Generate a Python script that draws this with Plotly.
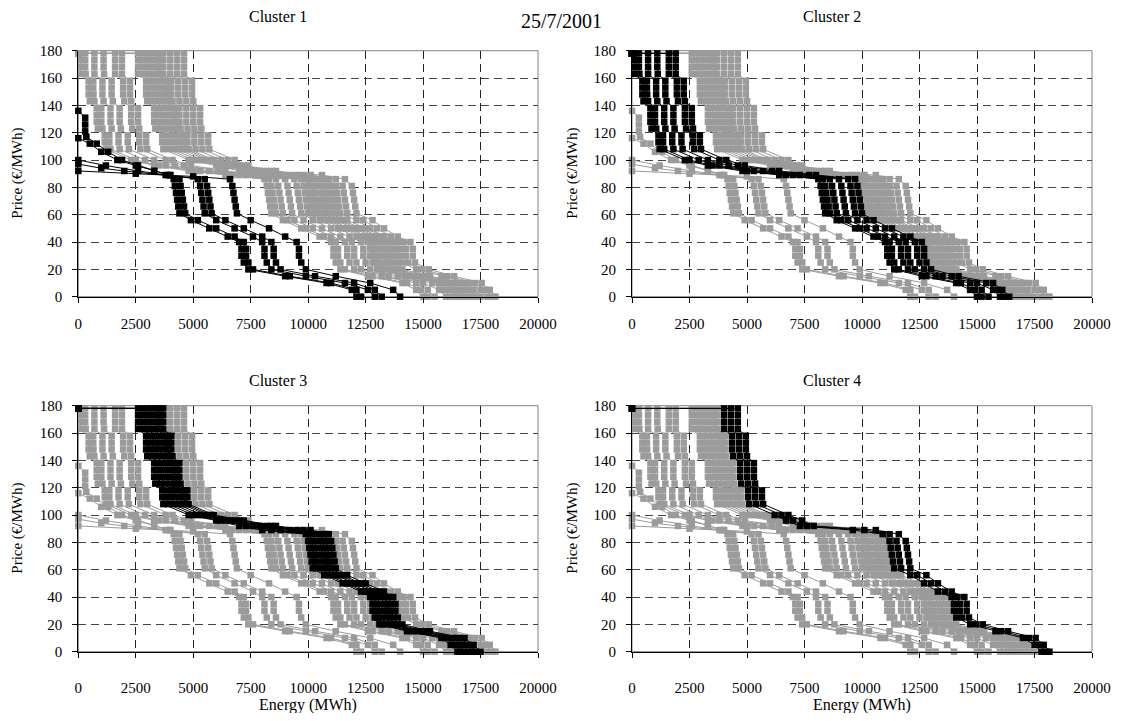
import plotly.graph_objects as go

# ---------------- data ----------------
# common price levels (EUR/MWh) for the curves of clusters 2-4; the first entry is the starting point at 0 MWh
PRICE_GRID = [178, 178, 173, 168, 163, 158, 153, 148, 143, 138, 133, 128, 123, 118, 113, 108, 100, 96, 92, 89,
              86, 81, 76, 71, 66, 61, 56, 50, 44, 40, 35, 30, 25, 20, 15, 10, 5, 0]

# cluster 1 curves (they start on the price axis)
A1_P = [136, 131, 126, 121, 117, 112, 106, 100, 96, 92, 89, 86, 81, 76, 71, 66, 61, 56, 50, 44, 40, 35, 30, 25,
        20, 15, 10, 5, 0]
A1_E = [0, 300, 300, 300, 350, 800, 1300, 1900, 2600, 3300, 3900, 4150, 4200, 4250, 4300, 4350, 4400, 4900, 5700,
        6500, 7000, 7100, 7100, 7200, 7400, 9000, 10800, 11900, 12100]
A2_P = [116, 112, 106, 100, 96, 92, 89, 86, 81, 76, 71, 66, 61, 56, 50, 44, 40, 35, 30, 25, 20, 15, 10, 5, 0]
A2_E = [0, 500, 1000, 1700, 2500, 3300, 4000, 4400, 4450, 4500, 4550, 4600, 4650, 5200, 6000, 6800, 7200, 7300,
        7300, 7400, 7600, 9200, 11000, 12100, 12300]
A3_P = [100, 96, 92, 89, 86, 81, 76, 71, 66, 61, 56, 50, 44, 40, 35, 30, 25, 20, 15, 10, 5, 0]
A3_E = [0, 1200, 2600, 4000, 5200, 5300, 5350, 5400, 5450, 5500, 6000, 6800, 7600, 8000, 8100, 8100, 8200, 8400,
        9900, 11600, 12600, 12900]
A4_P = [97, 94, 92, 89, 86, 81, 76, 71, 66, 61, 56, 50, 44, 40, 35, 30, 25, 20, 15, 10, 5, 0]
A4_E = [0, 1000, 2000, 3800, 5500, 5600, 5650, 5700, 5750, 5800, 6400, 7200, 8000, 8400, 8500, 8500, 8600, 8800,
        10300, 12000, 12900, 13200]
A5_P = [92, 90, 88, 86, 81, 76, 71, 66, 61, 56, 50, 44, 40, 35, 30, 25, 20, 15, 10, 5, 0]
A5_E = [0, 2500, 5000, 6600, 6700, 6750, 6800, 6850, 6900, 7500, 8300, 9000, 9500, 9600, 9600, 9700, 9900, 11200,
        12700, 13700, 14000]

# cluster 2 curves (energies in MWh at PRICE_GRID)
B1_E = [0, 100, 100, 100, 100, 450, 450, 450, 500, 800, 800, 800, 850, 1150, 1150, 1200, 2300, 3300, 4800, 6400,
        8100, 8200, 8250, 8300, 8350, 8400, 8900, 9700, 10500, 11000, 11100, 11100, 11200, 11400, 12600, 14100,
        14700, 15000]
B2_E = [0, 300, 300, 300, 320, 650, 650, 660, 700, 1000, 1000, 1000, 1050, 1350, 1350, 1400, 2500, 3500, 5000,
        6700, 8300, 8400, 8450, 8500, 8550, 8600, 9100, 9900, 10700, 11200, 11300, 11300, 11400, 11600, 12800,
        14300, 14900, 15200]
B3_E = [0, 700, 700, 700, 700, 1050, 1050, 1050, 1100, 1400, 1400, 1400, 1450, 1750, 1750, 1800, 2900, 3800, 5300,
        7000, 8600, 8700, 8750, 8800, 8850, 8900, 9400, 10200, 11000, 11600, 11700, 11700, 11800, 12000, 13200,
        14700, 15200, 15500]
B4_E = [0, 1100, 1100, 1100, 1120, 1450, 1450, 1450, 1500, 1800, 1800, 1800, 1850, 2150, 2150, 2200, 3300, 4200,
        5700, 7300, 9000, 9100, 9150, 9200, 9250, 9300, 9800, 10600, 11400, 11900, 12000, 12000, 12100, 12300,
        13500, 15000, 15700, 16000]
B5_E = [0, 1600, 1600, 1600, 1600, 1950, 1950, 1950, 2000, 2300, 2300, 2300, 2350, 2650, 2650, 2700, 3800, 4600,
        6100, 7700, 9400, 9500, 9550, 9600, 9650, 9700, 10200, 11000, 11800, 12300, 12400, 12400, 12500, 12700,
        13900, 15400, 15900, 16200]
B6_E = [0, 1900, 1900, 1900, 1900, 2250, 2250, 2250, 2300, 2600, 2600, 2600, 2650, 2950, 2950, 3000, 4100, 4900,
        6400, 8000, 9700, 9800, 9850, 9900, 9950, 10000, 10500, 11300, 12100, 12600, 12700, 12700, 12800, 13000,
        14200, 15700, 16100, 16400]

# cluster 3 curves
C1_E = [0, 2600, 2600, 2600, 2600, 2950, 2950, 2950, 3000, 3300, 3300, 3300, 3350, 3650, 3650, 3700, 4800, 6000,
        7000, 8000, 9900, 10000, 10050, 10100, 10150, 10200, 10700, 11500, 12300, 12700, 12800, 12800, 12900,
        13100, 14300, 15800, 16200, 16500]
C2_E = [0, 2800, 2800, 2800, 2800, 3150, 3150, 3150, 3200, 3500, 3500, 3500, 3550, 3850, 3850, 3900, 5000, 6200,
        7300, 8400, 10050, 10150, 10200, 10250, 10300, 10350, 10850, 11650, 12450, 12850, 12950, 12950, 13050,
        13250, 14450, 15950, 16350, 16650]
C3_E = [0, 3000, 3000, 3000, 3000, 3350, 3350, 3350, 3400, 3700, 3700, 3700, 3750, 4050, 4050, 4100, 5200, 6400,
        7600, 8800, 10200, 10300, 10350, 10400, 10450, 10500, 11000, 11800, 12600, 13000, 13100, 13100, 13200,
        13400, 14600, 16100, 16500, 16800]
C4_E = [0, 3200, 3200, 3200, 3200, 3550, 3550, 3550, 3600, 3900, 3900, 3900, 3950, 4250, 4250, 4300, 5400, 6600,
        7900, 9200, 10400, 10500, 10550, 10600, 10650, 10700, 11200, 12000, 12800, 13200, 13300, 13300, 13400,
        13600, 14800, 16300, 16700, 17000]
C5_E = [0, 3400, 3400, 3400, 3400, 3750, 3750, 3750, 3800, 4100, 4100, 4100, 4150, 4450, 4450, 4500, 5600, 6800,
        8200, 9500, 10550, 10650, 10700, 10750, 10800, 10850, 11350, 12150, 12950, 13350, 13450, 13450, 13550,
        13750, 14950, 16450, 16850, 17150]
C6_E = [0, 3550, 3550, 3550, 3550, 3900, 3900, 3900, 3950, 4250, 4250, 4250, 4300, 4600, 4600, 4650, 5750, 7000,
        8400, 9800, 10700, 10800, 10850, 10900, 10950, 11000, 11500, 12300, 13100, 13500, 13600, 13600, 13700,
        13900, 15100, 16600, 17000, 17300]
C7_E = [0, 3700, 3700, 3700, 3700, 4050, 4050, 4050, 4100, 4400, 4400, 4400, 4450, 4750, 4750, 4800, 5900, 7200,
        8600, 10100, 10900, 11000, 11050, 11100, 11150, 11200, 11700, 12500, 13300, 13700, 13800, 13800, 13900,
        14100, 15300, 16800, 17200, 17500]

# cluster 4 curves
D1_E = [0, 4000, 4000, 4000, 4000, 4350, 4350, 4350, 4400, 4700, 4700, 4700, 4750, 5050, 5050, 5100, 6200, 6700,
        7300, 9600, 10900, 11200, 11250, 11300, 11350, 11400, 12100, 12700, 13300, 13900, 14000, 14000, 14100,
        14700, 15800, 17000, 17500, 17800]
D2_E = [0, 4300, 4300, 4300, 4300, 4650, 4650, 4650, 4700, 5000, 5000, 5000, 5050, 5350, 5350, 5400, 6500, 7000,
        7600, 10100, 11200, 11500, 11550, 11600, 11650, 11700, 12400, 13000, 13600, 14150, 14250, 14250, 14350,
        14950, 16050, 17250, 17700, 18000]
D3_E = [0, 4600, 4600, 4600, 4600, 4950, 4950, 4950, 5000, 5300, 5300, 5300, 5350, 5650, 5650, 5700, 6800, 7400,
        7900, 10600, 11600, 11900, 11950, 12000, 12050, 12100, 12800, 13300, 13900, 14450, 14550, 14550, 14650,
        15250, 16350, 17550, 17900, 18150]

CLUSTER_CURVES = {
    1: [(A1_E, A1_P), (A2_E, A2_P), (A3_E, A3_P), (A4_E, A4_P), (A5_E, A5_P)],
    2: [(B1_E, PRICE_GRID), (B2_E, PRICE_GRID), (B3_E, PRICE_GRID), (B4_E, PRICE_GRID), (B5_E, PRICE_GRID),
        (B6_E, PRICE_GRID)],
    3: [(C1_E, PRICE_GRID), (C2_E, PRICE_GRID), (C3_E, PRICE_GRID), (C4_E, PRICE_GRID), (C5_E, PRICE_GRID),
        (C6_E, PRICE_GRID), (C7_E, PRICE_GRID)],
    4: [(D1_E, PRICE_GRID), (D2_E, PRICE_GRID), (D3_E, PRICE_GRID)],
}

X_TICKS = [0, 2500, 5000, 7500, 10000, 12500, 15000, 17500, 20000]
Y_TICKS = [0, 20, 40, 60, 80, 100, 120, 140, 160, 180]
PANEL_TITLES = ["Cluster 1", "Cluster 2", "Cluster 3", "Cluster 4"]
MAIN_TITLE = "25/7/2001"

# ---------------- layout geometry ----------------
# the page body keeps an 8 px margin, so the figure is 16 px smaller than the window
PAGE_W, PAGE_H = 1123, 721
OFF = 8
W, H = PAGE_W - 2 * OFF, PAGE_H - 2 * OFF
FONT = "Liberation Serif"
GRAY = "#9b9b9b"
MSIZE = 6.5
TXT = 15


def px_x(p):
    return (p - OFF) / W


def px_y(p):
    return 1 - (p - OFF) / H


x_domains = [(78.3, 538), (632, 1092), (78.3, 538), (632, 1092)]
y_domains = [(50.7, 296.7), (50.7, 296.7), (405.7, 651.7), (405.7, 651.7)]

fig = go.Figure()

for k in range(4):
    xa = "x" if k == 0 else f"x{k+1}"
    ya = "y" if k == 0 else f"y{k+1}"
    cl = k + 1
    for c in (1, 2, 3, 4):
        if c == cl:
            continue
        for E, P in CLUSTER_CURVES[c]:
            fig.add_trace(go.Scatter(
                x=E, y=P, xaxis=xa, yaxis=ya, mode="lines+markers",
                line=dict(color=GRAY, width=1),
                marker=dict(symbol="square", size=MSIZE, color=GRAY),
                showlegend=False, cliponaxis=False, hoverinfo="skip"))
    for E, P in CLUSTER_CURVES[cl]:
        fig.add_trace(go.Scatter(
            x=E, y=P, xaxis=xa, yaxis=ya, mode="lines+markers",
            line=dict(color="black", width=1),
            marker=dict(symbol="square", size=MSIZE, color="black"),
            showlegend=False, cliponaxis=False, hoverinfo="skip"))

layout = dict(
    width=W, height=H, autosize=False,
    margin=dict(l=0, r=0, t=0, b=0, pad=0),
    paper_bgcolor="white", plot_bgcolor="white",
    font=dict(family=FONT, color="black", size=TXT),
    showlegend=False,
)

annotations = []
shapes = []
for k in range(4):
    xs = "" if k == 0 else str(k + 1)
    x0, x1 = x_domains[k]
    y0, y1 = y_domains[k]
    bottom = k >= 2
    layout["xaxis" + xs] = dict(
        domain=[px_x(x0), px_x(x1)], range=[0, 20000], anchor="y" + xs,
        tickvals=X_TICKS, ticktext=[str(v) for v in X_TICKS],
        ticks="outside", ticklen=5, tickcolor="black",
        showline=True, linecolor="black", linewidth=1,
        showgrid=True, gridcolor="#222222", gridwidth=1, griddash="8px,5px",
        zeroline=False, fixedrange=True, automargin=False,
        ticklabelstandoff=17 if bottom else 8,
        tickfont=dict(family=FONT, size=TXT),
    )
    layout["yaxis" + xs] = dict(
        domain=[px_y(y1), px_y(y0)], range=[0, 180], anchor="x" + xs,
        tickvals=Y_TICKS, ticks="outside", ticklen=5, tickcolor="black",
        showline=True, linecolor="black", linewidth=1,
        showgrid=True, gridcolor="#444444", gridwidth=1, griddash="8px,5px",
        zeroline=False, fixedrange=True, automargin=False, ticklabelstandoff=7,
        tickfont=dict(family=FONT, size=TXT),
    )
    shapes.append(dict(type="rect", xref=f"x{xs} domain", yref=f"y{xs} domain",
                       x0=0, x1=1, y0=0, y1=1, line=dict(color="#808080", width=1),
                       layer="below"))
    tx = 278 if k % 2 == 0 else 832
    ty = 16 if k < 2 else 380
    annotations.append(dict(text=PANEL_TITLES[k], x=px_x(tx), y=px_y(ty), xref="paper", yref="paper",
                            showarrow=False, xanchor="center", yanchor="middle",
                            font=dict(family=FONT, size=TXT + 1)))
    yx = 18 if k % 2 == 0 else 573
    yc = (y0 + y1) / 2
    annotations.append(dict(text="Price (€/MWh)", x=px_x(yx), y=px_y(yc), xref="paper", yref="paper",
                            showarrow=False, textangle=-90, xanchor="center", yanchor="middle",
                            font=dict(family=FONT, size=TXT)))
    if bottom:
        annotations.append(dict(text="Energy (MWh)", x=px_x((x0 + x1) / 2), y=px_y(705), xref="paper",
                                yref="paper", showarrow=False, xanchor="center", yanchor="middle",
                                font=dict(family=FONT, size=TXT + 1)))

annotations.append(dict(text=MAIN_TITLE, x=px_x(PAGE_W / 2), y=px_y(8), xref="paper", yref="paper",
                        showarrow=False, xanchor="center", yanchor="top", font=dict(family=FONT, size=20)))

layout["annotations"] = annotations
layout["shapes"] = shapes
fig.update_layout(**layout)

fig.write_html("out.html")
